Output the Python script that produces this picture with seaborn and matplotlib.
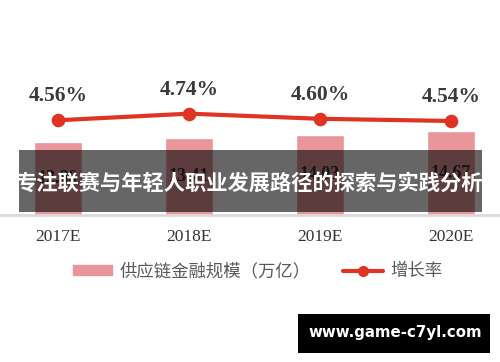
import matplotlib
matplotlib.use('Agg')
import matplotlib.pyplot as plt
import seaborn as sns
import pandas as pd
from matplotlib.patches import Patch, Rectangle
from matplotlib.lines import Line2D

# data
years = ['2017E', '2018E', '2019E', '2020E']
scale = [12.80, 13.41, 14.03, 14.67]   # 供应链金融规模（万亿）
growth = [4.56, 4.74, 4.60, 4.54]      # 增长率 (%)

df = pd.DataFrame({'year': years, 'scale': scale, 'growth': growth})

bar_color = '#E8969A'
line_color = '#DF3324'

sns.set_theme(style='white')
plt.rcParams['font.family'] = ['Noto Sans CJK SC', 'DejaVu Sans']

fig = plt.figure(figsize=(5, 3.62), dpi=100)
ax = fig.add_axes([0, 1 - 215 / 362, 1, 155 / 362])

sns.barplot(data=df, x='year', y='scale', color=bar_color, width=0.37,
            saturation=1, ax=ax)
# value labels sit under the banner, as in the reference
for i, v in enumerate(scale):
    ax.text(i, v / 2, f'{v:.2f}', ha='center', va='center', fontsize=13,
            fontweight='bold', color='#333333', family='Liberation Serif')
ax.set_ylim(0, 27.07)

ax2 = ax.twinx()
sns.pointplot(data=df, x='year', y='growth', color=line_color, ax=ax2,
              markers='o', linewidth=3)
ax2.set_ylim(1.965, 6.21)
for i, g in enumerate(growth):
    ax2.annotate(f'{g:.2f}%', (i, g), xytext=(0, 10), textcoords='offset points',
                 ha='center', va='bottom', fontsize=15.5, fontweight='bold',
                 color='#3a3a3a', family='Liberation Serif')

for a in (ax, ax2):
    a.set_xlim(-58 / 131, 442 / 131)
    a.set_ylabel('')
    a.set_xlabel('')
    a.set_yticks([])
    for s in a.spines.values():
        s.set_visible(False)
ax.spines['bottom'].set_visible(True)
ax.spines['bottom'].set_color('#d9d9d9')
ax.spines['bottom'].set_linewidth(2)
ax.tick_params(axis='x', length=0, pad=10, labelsize=12.5, labelcolor='#333333')
for lbl in ax.get_xticklabels():
    lbl.set_family('Liberation Serif')
ax2.tick_params(axis='x', length=0)

# legend
handles = [Patch(color=bar_color, label='供应链金融规模（万亿）'),
           Line2D([], [], color=line_color, lw=3, marker='o', markersize=7,
                  label='增长率')]
fig.legend(handles=handles, loc='center', bbox_to_anchor=(0.515, 0.251), ncol=2,
           frameon=False, fontsize=12.5, handlelength=2.3, handleheight=0.5,
           columnspacing=1.9, handletextpad=0.4, labelcolor='#595959')

# overlay banner
fig.patches.append(Rectangle((19 / 500, 1 - 212 / 362), 463 / 500, 62 / 362,
                             transform=fig.transFigure, facecolor='black',
                             edgecolor='none', alpha=0.6, zorder=10))
fig.text(0.5, 1 - 183 / 362, '专注联赛与年轻人职业发展路径的探索与实践分析',
         ha='center', va='center', color='white', fontsize=15.3,
         fontweight='bold', zorder=11)

# watermark
fig.patches.append(Rectangle((298 / 500, 1 - 353 / 362), 192 / 500, 39 / 362,
                             transform=fig.transFigure, facecolor='black',
                             edgecolor='none', zorder=10))
fig.text(395 / 500, 1 - 333 / 362, 'www.game-c7yl.com', ha='center', va='center',
         color='white', fontsize=10.8, fontweight='bold', family='DejaVu Sans',
         zorder=11)

fig.savefig('out.png', dpi=100)
